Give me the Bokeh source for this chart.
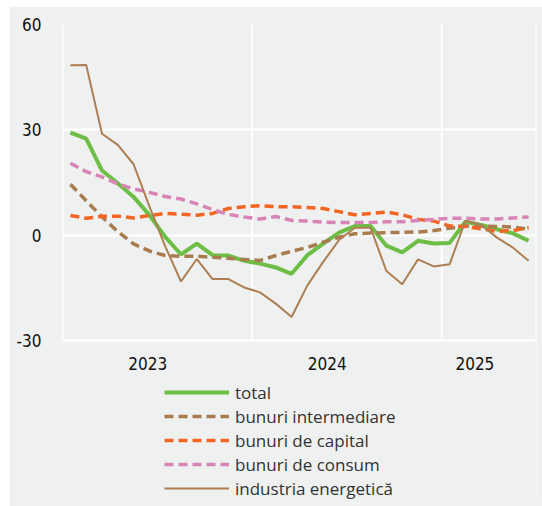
from bokeh.plotting import figure
from bokeh.models import Range1d, FixedTicker, Legend, LegendItem
from bokeh.core.properties import value
from bokeh.embed import file_html
from bokeh.resources import INLINE

# Monthly data Jan 2023 .. Jun 2025 (30 months), % change
months = list(range(30))
total = [29.2, 27.5, 18.4, 14.8, 10.9, 5.7, -0.5, -5.5, -2.4, -5.7, -5.8, -7.3, -8.1, -9.2, -11.0,
         -5.7, -2.4, 0.7, 2.6, 2.6, -3.0, -4.9, -1.6, -2.4, -2.2, 3.8, 2.9, 1.7, 0.5, -1.6]
intermediare = [14.5, 9.8, 5.2, 1.0, -2.5, -4.5, -5.8, -6.0, -6.0, -6.3, -6.6, -6.9, -7.2, -5.8, -4.6,
                -3.5, -2.0, -0.6, 0.4, 0.6, 0.7, 0.8, 0.9, 1.3, 2.0, 2.6, 2.6, 2.5, 2.3, 1.7]
capital = [5.6, 4.8, 5.4, 5.4, 4.9, 5.6, 6.2, 6.0, 5.7, 6.2, 7.6, 8.1, 8.4, 8.1, 8.1,
           7.9, 7.6, 6.7, 5.8, 6.2, 6.6, 5.8, 4.5, 4.0, 2.6, 2.5, 1.8, 1.1, 1.3, 2.1]
consum = [20.5, 18.1, 16.6, 14.6, 13.2, 12.2, 11.0, 10.3, 8.9, 7.3, 5.9, 5.2, 4.6, 5.3, 4.2,
          4.0, 3.7, 3.6, 3.6, 3.6, 3.8, 3.8, 4.2, 4.5, 4.8, 4.8, 4.6, 4.6, 4.9, 5.2]
energetica = [48.4, 48.5, 28.9, 25.7, 20.2, 8.2, -3.2, -13.2, -6.8, -12.5, -12.5, -14.9, -16.3, -19.5, -23.3,
              -14.3, -7.6, -1.4, 2.1, 2.1, -10.2, -14.0, -6.9, -8.9, -8.3, 4.1, 2.9, -0.7, -3.5, -7.3]

year_labels = ["2023", "2024", "2025"]
year_label_pos = [5.4, 16.75, 26.1]
year_bounds = [0, 12, 24, 30]
y_ticks = [-30, 0, 30, 60]
y_tick_labels = ["-30", "0", "30", "60"]

legend_names = ["total", "bunuri intermediare", "bunuri de capital", "bunuri de consum", "industria energetică"]

x = [m + 0.5 for m in months]

BG = "#eff0f0"
FIG_H = 500
TOP, BOTTOM = 18, 3
# 90 value units span 316 px; the frame is extended downward to hold the legend
frame_h = FIG_H - TOP - BOTTOM
y_start = 60 - frame_h * 90 / 316

p = figure(width=533, height=FIG_H, output_backend="svg", toolbar_location=None,
           x_range=Range1d(0, 30), y_range=Range1d(y_start, 60),
           background_fill_color=BG, border_fill_color=BG,
           min_border_left=53, min_border_right=6, min_border_top=TOP, min_border_bottom=BOTTOM)
p.styles = {"margin-left": "9px", "margin-top": "6px"}
p.outline_line_color = None

# grids
p.xgrid.visible = False
p.ygrid.ticker = FixedTicker(ticks=y_ticks)
p.ygrid.grid_line_color = "white"
p.ygrid.grid_line_width = 2
p.segment(x0=year_bounds, y0=[min(y_ticks)] * len(year_bounds),
          x1=year_bounds, y1=[max(y_ticks)] * len(year_bounds),
          line_color="white", line_width=2)

label_font = "DejaVu Sans Condensed"
p.xaxis.visible = False
p.yaxis.ticker = FixedTicker(ticks=y_ticks)
p.yaxis.major_label_overrides = {t: s for t, s in zip(y_ticks, y_tick_labels)}
p.yaxis.axis_line_color = None
p.yaxis.major_tick_line_color = None
p.yaxis.minor_tick_line_color = None
p.yaxis.major_tick_out = 0
p.yaxis.major_tick_in = 0
p.yaxis.minor_tick_out = 0
p.yaxis.minor_tick_in = 0
p.yaxis.major_label_text_font = label_font
p.yaxis.major_label_text_font_size = "17px"
p.yaxis.major_label_text_color = "#111111"
p.yaxis.major_label_standoff = 21

p.text(x=year_label_pos, y=[min(y_ticks)] * 3, text=year_labels,
       text_font=value(label_font), text_font_size="17px", text_color="#111111",
       text_align="center", text_baseline="middle", y_offset=23)

r_total = p.line(x, total, line_color="#6dbe45", line_width=4)
r_int = p.line(x, intermediare, line_color="#a97c50", line_width=3.5, line_dash="9 5")
r_cap = p.line(x, capital, line_color="#f26522", line_width=3.5, line_dash="9 5")
r_con = p.line(x, consum, line_color="#d884b4", line_width=3.5, line_dash="9 5")
r_en = p.line(x, energetica, line_color="#ad7f52", line_width=2)

renderers = [r_total, r_int, r_cap, r_con, r_en]
legend = Legend(items=[LegendItem(label=n, renderers=[r]) for n, r in zip(legend_names, renderers)],
                location=(102, 3), orientation="vertical",
                glyph_width=65, glyph_height=24, label_height=24, spacing=0,
                padding=0, margin=0, label_standoff=6,
                label_text_font="Open Sans", label_text_font_size="17px",
                label_text_color="#333333",
                border_line_color=None, background_fill_alpha=0)
p.add_layout(legend)

open("out.html", "w").write(file_html(p, INLINE))
